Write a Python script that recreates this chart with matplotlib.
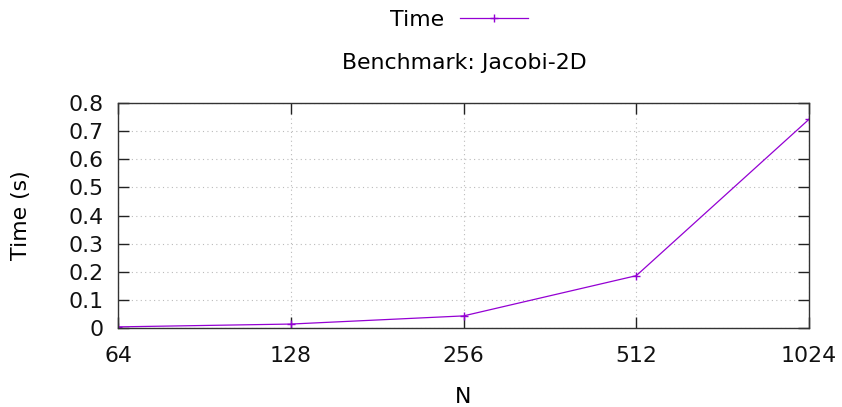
import matplotlib
matplotlib.use("Agg")
import matplotlib.pyplot as plt
from matplotlib.lines import Line2D

N = [64, 128, 256, 512, 1024]
times = [0.004, 0.014, 0.043, 0.186, 0.742]
yticks = [0, 0.1, 0.2, 0.3, 0.4, 0.5, 0.6, 0.7, 0.8]
ytick_labels = ["0", "0.1", "0.2", "0.3", "0.4", "0.5", "0.6", "0.7", "0.8"]

plt.rcParams['font.family'] = ['DejaVu Sans']
FS = 15.8
fig = plt.figure(figsize=(8.42, 4.07), dpi=100)
ax = fig.add_axes([118/842, 1-328/407, (809-118)/842, (328-103)/407])

color = '#9400d3'
ax.plot(N, times, color=color, lw=0.9, marker='+', ms=6, mew=1.0)
ax.set_xscale('log', base=2)
ax.set_xlim(64, 1024)
ax.set_ylim(0, 0.8)
ax.set_xticks(N)
ax.set_xticklabels([str(n) for n in N])
ax.xaxis.set_minor_locator(matplotlib.ticker.NullLocator())
ax.set_yticks(yticks)
ax.set_yticklabels(ytick_labels)
ax.tick_params(direction='in', length=8, width=1, labelsize=FS, top=True, right=True,
               color='#222222', labelcolor='#111111')
ax.tick_params(axis='x', pad=13)
ax.tick_params(axis='y', pad=10.5)
ax.grid(True, linestyle=(0, (1, 3)), color='#bbbbbb', lw=0.8)
for s in ax.spines.values():
    s.set_color('#333333')
    s.set_linewidth(1)

ax.set_xlabel('N', fontsize=FS, labelpad=15)
ax.set_ylabel('Time (s)', fontsize=FS, labelpad=27)
fig.text(464/842, 1-63/407, 'Benchmark: Jacobi-2D', fontsize=FS, ha='center', va='center')

handle = Line2D([], [], color=color, lw=0.9, marker='+', ms=6, mew=1.0)
fig.legend([handle], ['Time'], loc='center', bbox_to_anchor=(459/842, 1-20/407),
           frameon=False, fontsize=FS, markerfirst=False, handlelength=3.1,
           handletextpad=0.7)

fig.savefig('out.png', dpi=100)
